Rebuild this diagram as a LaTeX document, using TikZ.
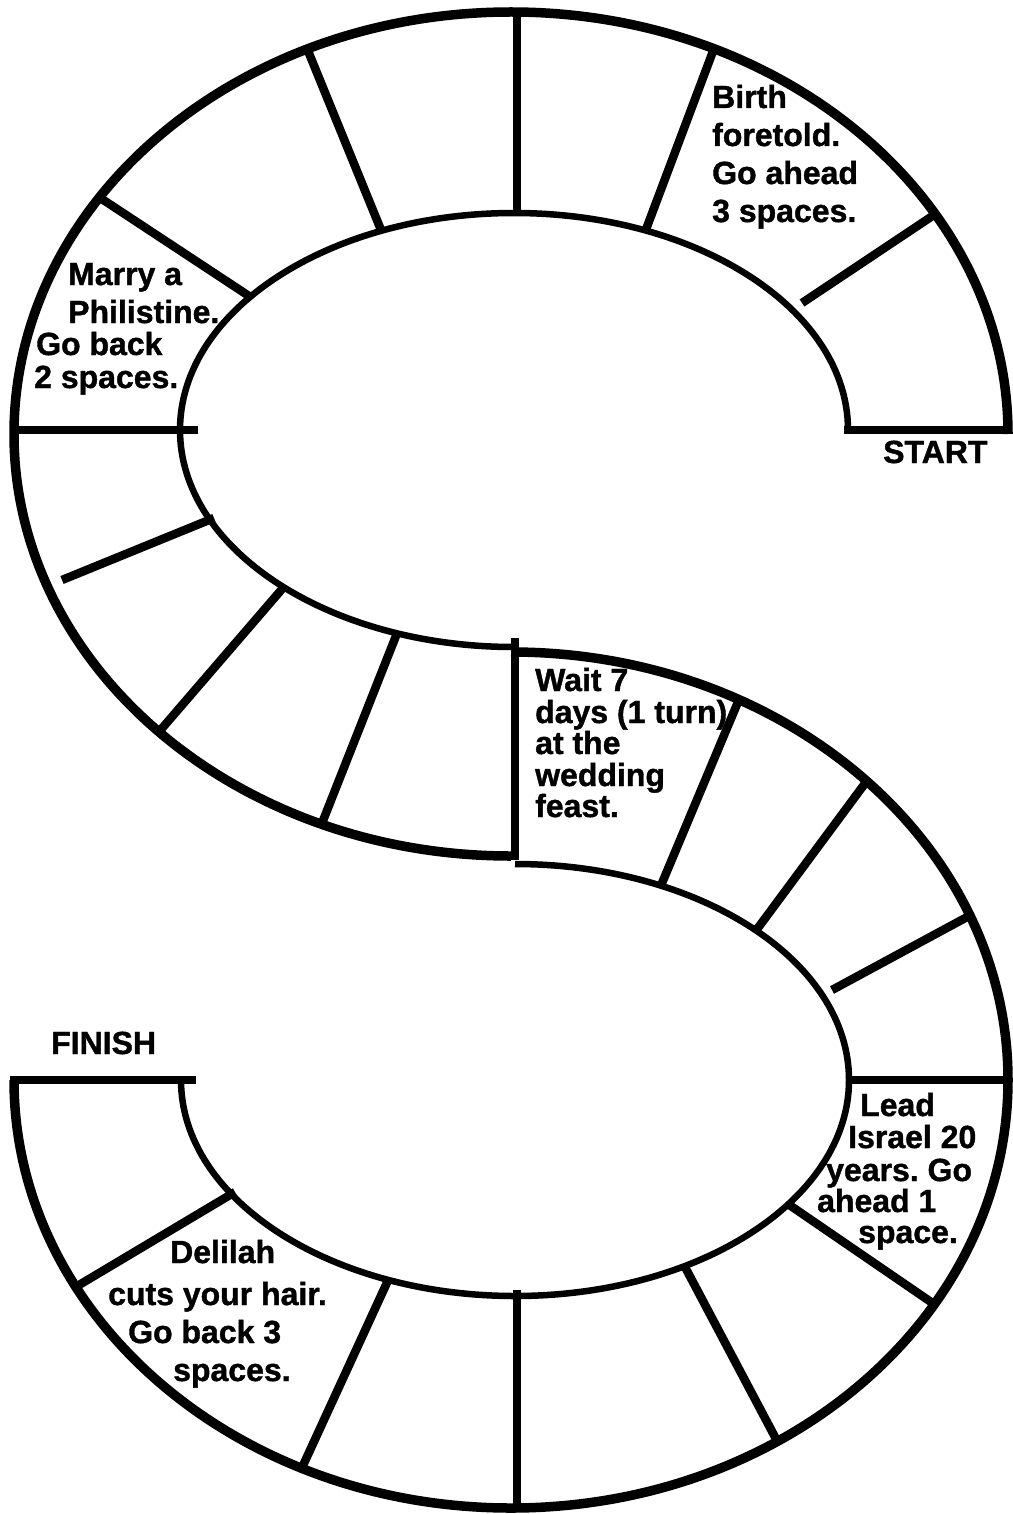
\documentclass[tikz,border=0pt]{standalone}
\usepackage{fontspec}
\setmainfont{Liberation Sans}[BoldFeatures={FakeBold=1.2}]
\usetikzlibrary{calc}
\frenchspacing
\begin{document}
\begin{tikzpicture}[x=1pt,y=1pt,
  outerline/.style={line width=9.5pt},
  innerline/.style={line width=6.5pt},
  divider/.style={line width=8.5pt},
  lbl/.style={font=\fontsize{32}{38}\selectfont\bfseries, inner sep=0pt, anchor=base west}]
\useasboundingbox[fill=white] (0,0) rectangle (1012,-1514);
% ellipse centres
\coordinate (UO) at (511,-434);  % upper outer, 497 x 422
\coordinate (UI) at (514,-430);  % upper inner, 334 x 217
\coordinate (LO) at (511,-1080); % lower outer, 497 x 428
\coordinate (LI) at (515,-1080); % lower inner, 334 x 216
% upper loop
\draw[outerline] ($(UO)+(0:497 and 422)$) arc[start angle=0, end angle=270, x radius=497, y radius=422];
\draw[innerline] ($(UI)+(0:334 and 217)$) arc[start angle=0, end angle=270, x radius=334, y radius=217];
% lower loop
\draw[outerline] ($(LO)+(90:497 and 428)$) arc[start angle=90, end angle=-180, x radius=497, y radius=428];
\draw[innerline] ($(LI)+(90:334 and 216)$) arc[start angle=90, end angle=-180, x radius=334, y radius=216];
% straight separators
\draw[divider] (844,-430) -- (1012,-430);
\draw[divider] (10,-430) -- (198,-430);
\draw[divider] (10,-1080) -- (196,-1080);
\draw[divider] (846,-1080) -- (1012,-1080);
\draw[divider] (517,-8) -- (517,-214);
\draw[divider] (515,-638) -- (515,-860);
\draw[divider] (517,-1290) -- (517,-1512);
% radial dividers upper loop
\foreach \a/\b in {66.8/65.9, 113.4/114.2, 226.4/224.9, 249.5/247.6}
  \draw[divider] ($(UI)+(\a:334 and 217)$) -- ($(UO)+(\b:497 and 422)$);
\draw[divider] (802,-303) -- ($(UO)+(31.4:497 and 422)$);
\draw[divider] (252,-298) -- ($(UO)+(145.9:497 and 422)$);
\draw[divider] (214,-518) -- (62,-580);
% radial dividers lower loop
\foreach \a/\b in {64.1/62.7, 43.8/44.3, -35.1/-31.6, -59.5/-57.6, -112.3/-114.9}
  \draw[divider] ($(LI)+(\a:334 and 216)$) -- ($(LO)+(\b:497 and 428)$);
\draw[divider] (832,-990) -- ($(LO)+(22.6:497 and 428)$);
\draw[divider] (235,-1192) -- ($(LO)+(-151.1:497 and 428)$);
% texts
\node[lbl] (b1) at (712,-108) {Birth};
\node[lbl] (b2) at (712,-146) {foretold.};
\node[lbl] (b3) at (712,-184) {Go ahead};
\node[lbl] (b4) at (712,-222) {3 spaces.};
\node[lbl] (m1) at (68,-285) {Marry a};
\node[lbl] (m2) at (68,-323) {Philistine.};
\node[lbl] (m3) at (36,-355) {Go back};
\node[lbl] (m4) at (34,-388) {2 spaces.};
\node[lbl] (w1) at (535,-691) {Wait 7};
\node[lbl] (w2) at (535,-723) {days (1 turn)};
\node[lbl] (w3) at (535,-754) {at the};
\node[lbl] (w4) at (535,-786) {wedding};
\node[lbl] (w5) at (535,-817) {feast.};
\node[lbl] (l1) at (860,-1116) {Lead};
\node[lbl] (l2) at (848,-1148) {Israel 20};
\node[lbl] (l3) at (826,-1181) {years. Go};
\node[lbl] (l4) at (817,-1212) {ahead 1};
\node[lbl] (l5) at (858,-1243) {space.};
\node[lbl] (d1) at (170,-1263) {Delilah};
\node[lbl] (d2) at (108,-1305) {cuts your hair.};
\node[lbl] (d3) at (128,-1343) {Go back 3};
\node[lbl] (d4) at (173,-1381) {spaces.};
\node[lbl] (start) at (883,-463) {START};
\node[lbl] (finish) at (51,-1054) {FINISH};
\end{tikzpicture}
\end{document}
